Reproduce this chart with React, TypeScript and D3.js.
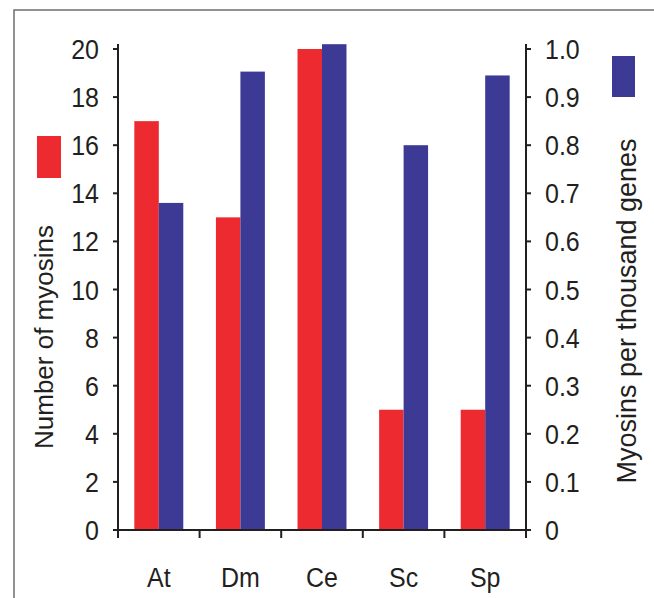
import React from "react";
import * as d3 from "d3";

// species and the two measures (left axis: count, right axis: per thousand genes)
const species = ["At", "Dm", "Ce", "Sc", "Sp"];
const myosinCount = [17, 13, 20, 5, 5];
const myosinPerThousand = [0.68, 0.953, 1.01, 0.8, 0.945];
const leftTicks = [0, 2, 4, 6, 8, 10, 12, 14, 16, 18, 20];
const rightTicks = [0, 0.1, 0.2, 0.3, 0.4, 0.5, 0.6, 0.7, 0.8, 0.9, 1.0];

const RED = "#ec2a2f";
const BLUE = "#3d3a96";
const INK = "#231f20";
const FONT = "'Liberation Sans', Arial, Helvetica, sans-serif";
const STRETCH = 1.12; // labels in the original look a bit taller than wide

export default function App() {
  const width = 654;
  const height = 598;
  const margin = { left: 118, right: 128, top: 49, bottom: 68 };
  const plotRight = width - margin.right;
  const plotBottom = height - margin.bottom;

  const x0 = d3.scaleBand().domain(species).range([margin.left, plotRight]).paddingInner(0);
  const bw = x0.bandwidth();
  const x1 = d3.scaleBand().domain(["count", "density"]).range([bw * 0.2, bw * 0.8]);

  const yLeft = d3.scaleLinear().domain([0, 20]).range([plotBottom, margin.top]);
  const yRight = d3.scaleLinear().domain([0, 1]).range([plotBottom, margin.top]);

  const fmtRight = (d: number) => (d === 0 ? "0" : d3.format(".1f")(d));

  const boundaries = species.map((s) => x0(s) as number).concat([plotRight]);

  return (
    <svg width={width} height={height} style={{ position: "absolute", left: 0, top: 0 }}>
      <rect width={width} height={height} fill="#fff" />
      {/* frame */}
      <path d={`M14,${height} L14,10 L${width},10`} fill="none" stroke="#6d6d6d" strokeWidth={1.5} />

      {/* bars */}
      {species.map((s, i) => (
        <g key={s} transform={`translate(${x0(s)},0)`}>
          <rect
            x={x1("count")}
            y={yLeft(myosinCount[i])}
            width={x1.bandwidth()}
            height={plotBottom - yLeft(myosinCount[i])}
            fill={RED}
          />
          <rect
            x={x1("density")}
            y={yRight(myosinPerThousand[i])}
            width={x1.bandwidth()}
            height={plotBottom - yRight(myosinPerThousand[i])}
            fill={BLUE}
          />
        </g>
      ))}

      {/* left axis */}
      <line x1={margin.left} x2={margin.left} y1={margin.top - 5} y2={plotBottom + 8} stroke={INK} strokeWidth={2} />
      {leftTicks.map((t) => (
        <g key={"l" + t}>
          <line x1={margin.left - 5} x2={margin.left} y1={yLeft(t)} y2={yLeft(t)} stroke={INK} strokeWidth={2} />
          <text
            transform={`translate(${margin.left - 19},${yLeft(t)}) scale(1,${STRETCH})`}
            dy="0.36em" textAnchor="end" fontSize={25} fontFamily={FONT} fill={INK}
          >
            {t}
          </text>
        </g>
      ))}

      {/* right axis */}
      <line x1={plotRight} x2={plotRight} y1={margin.top - 5} y2={plotBottom + 8} stroke={INK} strokeWidth={2} />
      {rightTicks.map((t) => (
        <g key={"r" + t}>
          <line x1={plotRight} x2={plotRight + 5} y1={yRight(t)} y2={yRight(t)} stroke={INK} strokeWidth={2} />
          <text
            transform={`translate(${plotRight + 19},${yRight(t)}) scale(1,${STRETCH})`}
            dy="0.36em" textAnchor="start" fontSize={25} fontFamily={FONT} fill={INK}
          >
            {fmtRight(t)}
          </text>
        </g>
      ))}

      {/* x axis */}
      <line x1={margin.left - 5} x2={plotRight} y1={plotBottom} y2={plotBottom} stroke={INK} strokeWidth={2} />
      {boundaries.map((b, i) => (
        <line key={"xt" + i} x1={b} x2={b} y1={plotBottom} y2={plotBottom + 8} stroke={INK} strokeWidth={2} />
      ))}
      {species.map((s) => (
        <text
          key={"xl" + s}
          transform={`translate(${(x0(s) as number) + bw / 2},587) scale(1,${STRETCH})`}
          textAnchor="middle" fontSize={25} fontFamily={FONT} fill={INK}
        >
          {s}
        </text>
      ))}

      {/* axis titles */}
      <text transform="translate(53,337) rotate(-90)" textAnchor="middle" fontSize={26} fontFamily={FONT} fill={INK}>
        Number of myosins
      </text>
      <text transform="translate(636,311) rotate(-90)" textAnchor="middle" fontSize={27} fontFamily={FONT} fill={INK}>
        Myosins per thousand genes
      </text>

      {/* legend swatches */}
      <rect x={37} y={136} width={24} height={42} fill={RED} />
      <rect x={612} y={56} width={23} height={41} fill={BLUE} />
    </svg>
  );
}
